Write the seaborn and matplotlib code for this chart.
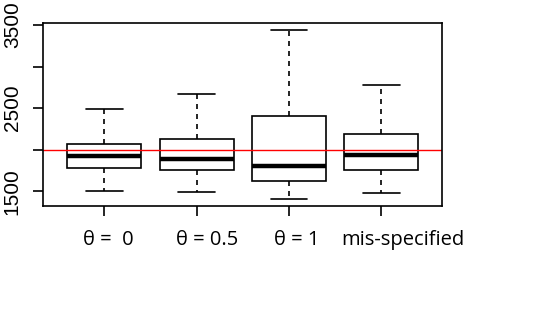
import numpy as np
import pandas as pd
import matplotlib
matplotlib.use("Agg")
import matplotlib.pyplot as plt
import matplotlib.transforms as mtransforms
import seaborn as sns

# five-number summaries (lower whisker, Q1, median, Q3, upper whisker)
groups = ["θ =  0", "θ = 0.5", "θ = 1", "mis-specified"]
theta0 = [1500, 1780, 1928, 2068, 2486]
theta05 = [1488, 1756, 1888, 2125, 2673]
theta1 = [1407, 1624, 1800, 2409, 3442]
misspec = [1483, 1760, 1932, 2189, 2774]
true_value = 2000

yticks = [1500, 2000, 2500, 3000, 3500]
ytick_labels = ["1500", "", "2500", "", "3500"]

df = pd.DataFrame({
    "group": np.repeat(groups, 5),
    "value": theta0 + theta05 + theta1 + misspec,
})

sns.set_style("ticks")
plt.rcParams["text.color"] = "black"
plt.rcParams["xtick.color"] = "black"
plt.rcParams["ytick.color"] = "black"

fig = plt.figure(figsize=(5.45, 3.19), dpi=100)
ax = fig.add_axes([0.0795, 0.3552, 0.7321, 0.5727])

sns.boxplot(
    data=df, x="group", y="value", order=groups, ax=ax,
    whis=(0, 100), width=0.8,
    boxprops=dict(facecolor="white", edgecolor="black", linewidth=1.2),
    medianprops=dict(color="black", linewidth=3.2),
    whiskerprops=dict(color="black", linewidth=1.2, linestyle=(0, (3, 3))),
    capprops=dict(color="black", linewidth=1.2),
)

ax.axhline(true_value, color="red", linewidth=1.0)

ax.set_xlim(-0.66, 3.66)
ax.set_ylim(1327, 3524)
ax.set_yticks(yticks)
ax.set_yticklabels(ytick_labels, rotation=90, va="center", color="black",
                   family=["Liberation Sans", "DejaVu Sans"], fontsize=15)
ax.set_xticks(range(len(groups)))
ax.set_xticklabels([])
ax.set_xlabel("")
ax.set_ylabel("")

# group labels: in the original they sit a little right of their ticks
shifts = [4, 10, 8, 22]
for i, (g, dx) in enumerate(zip(groups, shifts)):
    tr = ax.get_xaxis_transform() + mtransforms.ScaledTranslation(
        dx / 100, -0.24, fig.dpi_scale_trans)
    ax.text(i, 0, g, transform=tr, ha="center", va="top", fontsize=14.5,
            family=["Open Sans", "DejaVu Sans"], color="black")

ax.tick_params(axis="y", length=7.5, width=1.2, color="black", pad=8)
ax.tick_params(axis="x", length=7.5, width=1.2, color="black")
for s in ax.spines.values():
    s.set_visible(True)
    s.set_color("black")
    s.set_linewidth(1.2)

fig.savefig("out.png", dpi=100)
